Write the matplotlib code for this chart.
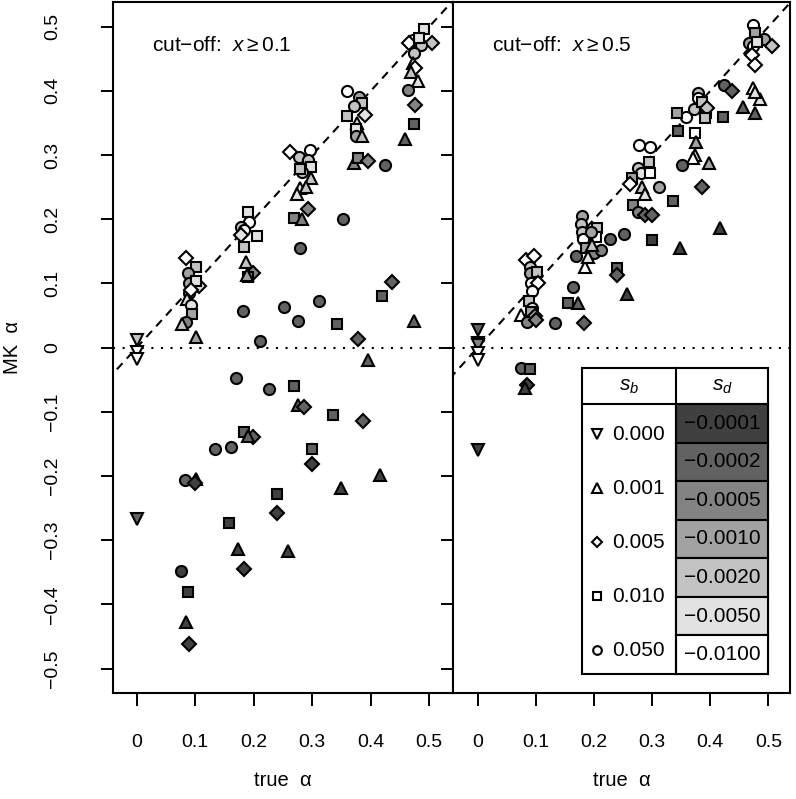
import matplotlib
matplotlib.use("Agg")
import matplotlib.pyplot as plt
from matplotlib.patches import Rectangle

plt.rcParams['font.family'] = ['Liberation Sans', 'DejaVu Sans']
plt.rcParams['mathtext.fontset'] = 'custom'
plt.rcParams['mathtext.rm'] = 'Liberation Sans'
plt.rcParams['mathtext.it'] = 'Liberation Sans:italic'
plt.rcParams['axes.unicode_minus'] = True

# ---------------- data ----------------
sb_labels = ["0.000", "0.001", "0.005", "0.010", "0.050"]
sb_markers = ["v", "^", "D", "s", "o"]
sd_labels = ["\u22120.0001", "\u22120.0002", "\u22120.0005", "\u22120.0010",
             "\u22120.0020", "\u22120.0050", "\u22120.0100"]
sd_colors = ["#404040", "#626262", "#838383", "#a2a2a2", "#c3c3c3", "#e2e2e2", "#ffffff"]
panel_titles = ["cut\u2212off:  $x \\geq 0.1$", "cut\u2212off:  $x \\geq 0.5$"]
tick_vals_x = [0, 0.1, 0.2, 0.3, 0.4, 0.5]
tick_labels_x = ["0", "0.1", "0.2", "0.3", "0.4", "0.5"]
tick_vals_y = [-0.5, -0.4, -0.3, -0.2, -0.1, 0, 0.1, 0.2, 0.3, 0.4, 0.5]
tick_labels_y = ["\u22120.5", "\u22120.4", "\u22120.3", "\u22120.2", "\u22120.1", "0",
                 "0.1", "0.2", "0.3", "0.4", "0.5"]

# left panel (cut-off x >= 0.1): true alpha, MK alpha, s_b index, s_d index
left_true = [0.0, 0.0, 0.0, 0.0,
             0.084, 0.101, 0.088, 0.089, 0.107, 0.102, 0.089, 0.086, 0.093, 0.095, 0.084, 0.077, 0.101, 0.092,
             0.082, 0.101, 0.099, 0.076, 0.088, 0.085, 0.089,
             0.191, 0.192, 0.179, 0.183, 0.178, 0.205, 0.184, 0.187, 0.199, 0.191, 0.188, 0.182, 0.211,
             0.170, 0.226, 0.134, 0.162, 0.184, 0.199, 0.190, 0.158, 0.173, 0.184,
             0.262, 0.296, 0.277, 0.293, 0.297, 0.282, 0.279, 0.297, 0.279, 0.290, 0.274, 0.292, 0.268, 0.283,
             0.279, 0.252, 0.276, 0.312, 0.353, 0.343, 0.268, 0.276, 0.286, 0.335, 0.299, 0.300, 0.240, 0.240, 0.259,
             0.359, 0.380, 0.385, 0.372, 0.390, 0.359, 0.376, 0.375, 0.375, 0.385, 0.371, 0.378, 0.395, 0.424,
             0.436, 0.420, 0.379, 0.474, 0.396, 0.386, 0.349, 0.415,
             0.491, 0.473, 0.466, 0.505, 0.486, 0.482, 0.474, 0.472, 0.476, 0.468, 0.481, 0.464, 0.476, 0.474, 0.458]
left_mk = [0.012, -0.006, -0.017, -0.267,
           0.139, 0.126, 0.117, 0.100, 0.096, 0.104, 0.085, 0.076, 0.066, 0.052, 0.040, 0.037, 0.017, 0.090,
           -0.206, -0.205, -0.211, -0.348, -0.380, -0.427, -0.462,
           0.212, 0.196, 0.188, 0.183, 0.176, 0.174, 0.156, 0.133, 0.117, 0.110, 0.113, 0.057, 0.011,
           -0.047, -0.064, -0.158, -0.154, -0.131, -0.139, -0.137, -0.273, -0.314, -0.345,
           0.304, 0.308, 0.297, 0.293, 0.282, 0.274, 0.278, 0.265, 0.248, 0.250, 0.240, 0.216, 0.2015, 0.200,
           0.155, 0.064, 0.042, 0.072, 0.200, 0.037, -0.059, -0.090, -0.093, -0.105, -0.158, -0.181, -0.228, -0.258, -0.317,
           0.399, 0.391, 0.381, 0.377, 0.362, 0.361, 0.350, 0.340, 0.330, 0.329, 0.288, 0.295, 0.290, 0.285,
           0.103, 0.081, 0.013, 0.042, -0.019, -0.115, -0.218, -0.198,
           0.497, 0.479, 0.474, 0.474, 0.472, 0.482, 0.459, 0.443, 0.435, 0.430, 0.416, 0.401, 0.378, 0.348, 0.325]
left_sb = [0, 0, 0, 0,
           2, 3, 4, 4, 2, 3, 4, 1, 4, 3, 4, 1, 1, 2,
           4, 1, 2, 4, 3, 1, 2,
           3, 4, 4, 4, 2, 3, 3, 1, 2, 3, 1, 4, 4,
           4, 4, 4, 4, 3, 2, 1, 3, 1, 2,
           2, 4, 4, 4, 3, 4, 3, 1, 1, 1, 1, 2, 3, 1,
           4, 4, 4, 4, 4, 3, 3, 1, 2, 3, 3, 2, 3, 2, 1,
           4, 4, 3, 4, 2, 3, 1, 3, 4, 1, 1, 3, 2, 4,
           2, 3, 2, 1, 1, 2, 1, 1,
           3, 4, 2, 2, 4, 3, 4, 1, 2, 1, 1, 4, 2, 3, 1]
left_sd = [4, 6, 6, 1,
           6, 4, 3, 3, 5, 5, 6, 5, 5, 3, 2, 4, 3, 6,
           1, 0, 0, 0, 0, 0, 0,
           5, 6, 4, 6, 5, 5, 4, 4, 2, 2, 3, 1, 1,
           1, 1, 1, 1, 1, 1, 1, 0, 0, 0,
           6, 6, 4, 4, 5, 4, 4, 4, 5, 4, 5, 2, 2, 2,
           1, 1, 1, 1, 1, 1, 1, 1, 1, 1, 1, 0, 0, 0, 0,
           6, 3, 4, 4, 5, 4, 5, 5, 3, 4, 2, 2, 2, 1,
           1, 1, 1, 1, 1, 1, 0, 0,
           5, 6, 6, 4, 4, 5, 4, 5, 6, 4, 5, 2, 2, 1, 1]

# right panel (cut-off x >= 0.5)
right_true = [0.0, 0.0, 0.0, 0.0, 0.0, 0.0,
              0.083, 0.096, 0.090, 0.090, 0.102, 0.092, 0.104, 0.093, 0.088, 0.093, 0.075, 0.091, 0.098, 0.084,
              0.100, 0.133, 0.163, 0.156, 0.173, 0.183, 0.256, 0.239, 0.239, 0.074, 0.090, 0.085, 0.081,
              0.180, 0.178, 0.180, 0.205, 0.181, 0.203, 0.194, 0.228, 0.251, 0.169, 0.187, 0.200, 0.212,
              0.185, 0.190, 0.197,
              0.277, 0.296, 0.294, 0.276, 0.280, 0.265, 0.297, 0.262, 0.311, 0.283, 0.288, 0.267, 0.275,
              0.287, 0.299, 0.335, 0.299, 0.348,
              0.378, 0.379, 0.358, 0.342, 0.372, 0.385, 0.392, 0.394, 0.390, 0.344, 0.374, 0.375, 0.374,
              0.371, 0.397, 0.352, 0.386, 0.417, 0.421, 0.423, 0.437,
              0.474, 0.476, 0.466, 0.492, 0.506, 0.474, 0.480, 0.471, 0.477, 0.474, 0.486, 0.476, 0.457, 0.477]
right_mk = [0.028, 0.007, 0.004, -0.009, -0.020, -0.159,
            0.137, 0.142, 0.126, 0.116, 0.118, 0.100, 0.100, 0.088, 0.072, 0.061, 0.051, 0.055, 0.050, 0.040,
            0.043, 0.038, 0.095, 0.069, 0.069, 0.039, 0.084, 0.124, 0.113, -0.031, -0.034, -0.058, -0.063,
            0.205, 0.192, 0.180, 0.186, 0.169, 0.172, 0.180, 0.169, 0.177, 0.143, 0.155, 0.148, 0.152,
            0.126, 0.141, 0.160,
            0.315, 0.313, 0.289, 0.280, 0.272, 0.264, 0.272, 0.255, 0.251, 0.250, 0.240, 0.222, 0.212,
            0.207, 0.207, 0.228, 0.167, 0.155,
            0.396, 0.389, 0.360, 0.365, 0.372, 0.382, 0.366, 0.373, 0.357, 0.338, 0.334, 0.320, 0.300,
            0.295, 0.287, 0.285, 0.251, 0.186, 0.360, 0.409, 0.399,
            0.503, 0.490, 0.474, 0.480, 0.470, 0.470, 0.476, 0.456, 0.440, 0.404, 0.388, 0.398, 0.375, 0.365]
right_sb = [0, 0, 0, 0, 0, 0,
            2, 2, 4, 4, 3, 4, 2, 4, 3, 4, 1, 3, 2, 4,
            2, 4, 4, 3, 1, 2, 1, 3, 2, 4, 3, 2, 1,
            4, 4, 4, 3, 4, 3, 4, 4, 4, 4, 3, 4, 4,
            1, 1, 1,
            4, 4, 3, 4, 4, 3, 3, 2, 4, 1, 1, 3, 4,
            2, 2, 3, 3, 1,
            4, 4, 4, 3, 4, 3, 3, 2, 3, 3, 3, 1, 1,
            1, 1, 4, 2, 1, 3, 4, 2,
            4, 3, 4, 4, 2, 4, 3, 2, 2, 1, 1, 1, 1, 1]
right_sd = [1, 6, 2, 6, 6, 0,
            6, 6, 4, 3, 4, 6, 6, 6, 4, 5, 6, 3, 3, 2,
            2, 1, 1, 1, 1, 1, 0, 1, 1, 1, 1, 0, 0,
            3, 4, 4, 4, 6, 6, 3, 1, 1, 1, 3, 2, 2,
            6, 5, 4,
            6, 6, 4, 4, 5, 3, 6, 6, 3, 4, 5, 2, 2,
            1, 1, 1, 0, 0,
            4, 6, 6, 3, 4, 4, 4, 4, 4, 1, 6, 3, 5,
            6, 3, 1, 1, 0, 1, 1, 1,
            6, 3, 3, 3, 4, 6, 5, 6, 6, 6, 5, 5, 1, 1]

marker_sizes = {"v": 9.0, "^": 9.0, "D": 6.7, "s": 7.0, "o": 8.0}

# ---------------- layout ----------------
W, H = 796, 799
fig = plt.figure(figsize=(W / 100, H / 100), dpi=100)

def ax_rect(x0, x1, y0, y1):
    return [x0 / W, 1 - y1 / H, (x1 - x0) / W, (y1 - y0) / H]

ax1 = fig.add_axes(ax_rect(112.7, 453, 2, 693.3))
ax2 = fig.add_axes(ax_rect(453, 790, 2, 693.3))

panels = [(ax1, left_true, left_mk, left_sb, left_sd, (-0.041, 0.5405)),
          (ax2, right_true, right_mk, right_sb, right_sd, (-0.0425, 0.537))]

for i, (ax, xt, ym, sb, sd, xl) in enumerate(panels):
    ax.set_xlim(*xl)
    ax.set_ylim(-0.5384, 0.5384)
    ax.plot([-1, 1], [-1, 1], color="black", lw=1.5, ls=(0, (4, 3)), zorder=2)
    ax.axhline(0, color="black", lw=1.5, ls=(0, (1, 3.6)), zorder=2)
    for x, y, b, d in zip(xt, ym, sb, sd):
        m = sb_markers[b]
        ax.plot(x, y, marker=m, ms=marker_sizes[m], mfc=sd_colors[d], mec="black",
                mew=1.5, ls="none", zorder=3)
    for s in ax.spines.values():
        s.set_linewidth(1.5)
    ax.set_xticks(tick_vals_x)
    ax.set_xticklabels(tick_labels_x)
    ax.tick_params(axis="x", direction="out", length=9.5, width=1.4, pad=19.5, labelsize=14)
    ax.set_yticks(tick_vals_y)
    ax.text(0.115, 0.937, panel_titles[i], transform=ax.transAxes,
            fontsize=15, ha="left", va="center")
    fig.text(((112.7 + 453) / 2 if i == 0 else (453 + 790) / 2) / W, 1 - 781 / H,
             "true  \u03b1", ha="center", va="center", fontsize=14.5)

ax1.set_yticklabels(tick_labels_y, rotation=90, va="center")
ax1.tick_params(axis="y", direction="out", length=9, width=1.4, pad=28, labelsize=14)
ax2.tick_params(axis="y", direction="out", length=9, width=1.4, labelleft=False)
fig.text(12 / W, 1 - 347.5 / H, "MK  \u03b1", rotation=90, ha="center", va="center", fontsize=14.5)

# ---------------- legend table (in right panel) ----------------
def fx(px):
    return (px - 453) / 337.0

def fy(py):
    return (693.3 - py) / 691.3

lx0, lxm, lx1 = 582, 676, 768
ly0, lyh, ly1 = 368, 404, 674
tr = ax2.transAxes
kw = dict(transform=tr, clip_on=False, zorder=10)
ax2.add_patch(Rectangle((fx(lx0), fy(ly1)), fx(lx1) - fx(lx0), fy(ly0) - fy(ly1),
                        facecolor="white", edgecolor="black", lw=1.5, **kw))
cell_h = (ly1 - lyh) / len(sd_labels)
for k, (lab, col) in enumerate(zip(sd_labels, sd_colors)):
    top = lyh + k * cell_h
    ax2.add_patch(Rectangle((fx(lxm), fy(top + cell_h)), fx(lx1) - fx(lxm), fy(top) - fy(top + cell_h),
                            facecolor=col, edgecolor="black", lw=1.5, **kw))
    ax2.text(fx((lxm + lx1) / 2), fy(top + cell_h / 2), lab, ha="center", va="center",
             fontsize=15, **kw)
ax2.plot([fx(lxm), fx(lxm)], [fy(ly0), fy(ly1)], color="black", lw=1.5, **kw)
ax2.plot([fx(lx0), fx(lx1)], [fy(lyh), fy(lyh)], color="black", lw=1.5, **kw)
ax2.text(fx((lx0 + lxm) / 2), fy((ly0 + lyh) / 2), "$s_b$", ha="center", va="center", fontsize=15, **kw)
ax2.text(fx((lxm + lx1) / 2), fy((ly0 + lyh) / 2), "$s_d$", ha="center", va="center", fontsize=15, **kw)
row_h = (ly1 - lyh) / len(sb_labels)
for k, (lab, m) in enumerate(zip(sb_labels, sb_markers)):
    yc = lyh + (k + 0.5) * row_h + 3
    ax2.plot([fx(597)], [fy(yc)], marker=m, ms=marker_sizes[m] * 0.78, mfc="white", mec="black",
             mew=1.5, ls="none", **kw)
    ax2.text(fx(612), fy(yc), lab, ha="left", va="center", fontsize=15, **kw)

fig.savefig("out.png", dpi=100)
